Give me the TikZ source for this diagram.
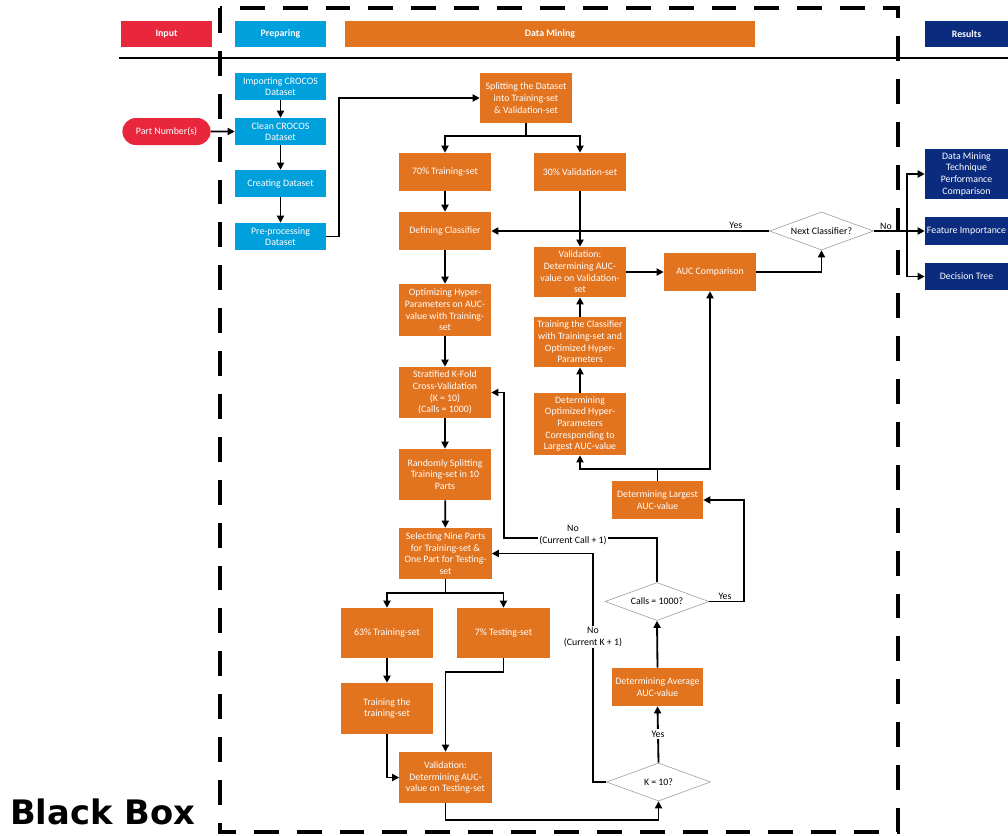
\documentclass[tikz,border=0pt]{standalone}
\usepackage{fontspec}
\setmainfont{Carlito}
\newfontfamily\bbfont{DejaVu Sans}
\usetikzlibrary{arrows.meta, positioning, shapes.geometric, shapes.misc}
\definecolor{inRed}{HTML}{E8263C}
\definecolor{prepBlue}{HTML}{00A0DC}
\definecolor{mineOrange}{HTML}{E2731F}
\definecolor{resNavy}{HTML}{0A2B7E}
\definecolor{diaGray}{HTML}{9A9A9A}
\tikzset{
  arrowK/.style={-{Triangle[length=5pt, width=5pt]}, black, line width=1.3pt},
  boxBase/.style={rectangle, align=center, text=white, inner sep=1pt,
                  font=\fontsize{7}{8.3}\selectfont, minimum width=2.3cm},
  boxBlue/.style={boxBase, fill=prepBlue, minimum width=2.275cm, minimum height=0.675cm},
  boxOrange/.style={boxBase, fill=mineOrange},
  boxNavy/.style={boxBase, fill=resNavy, minimum width=2.075cm},
  boxPill/.style={boxBase, fill=inRed, rounded rectangle, minimum width=2.275cm,
                  minimum height=0.675cm},
  headBox/.style={rectangle, text=white, minimum height=0.65cm,
                  font=\bfseries\fontsize{7}{8}\selectfont},
  decide/.style={diamond, aspect=2.75, draw=diaGray, fill=white, thin, inner sep=0pt,
                 font=\fontsize{7}{8.3}\selectfont, minimum width=2.6cm, minimum height=0.95cm},
  tagText/.style={font=\fontsize{7}{8.3}\selectfont, align=center, inner sep=1pt},
}
\begin{document}
\begin{tikzpicture}[x=0.025cm, y=-0.025cm]
  \useasboundingbox (0,0) rectangle (1008,836);
  % black box frame and header rule
  \draw[line width=3.5pt, dash pattern=on 17.7pt off 12.8pt] (220,8) rectangle (898,832);
  \draw[line width=2pt] (119,58) -- (1008,58);
  \node[anchor=base west, inner sep=0pt, font=\bbfont\bfseries\fontsize{24}{28}\selectfont]
    (bbox) at (10,824) {Black Box};

  % headers
  \node[headBox, fill=inRed, minimum width=2.275cm]     (hIn)   at (166.5,34) {Input};
  \node[headBox, fill=prepBlue, minimum width=2.275cm]  (hPrep) at (280.5,34) {Preparing};
  \node[headBox, fill=mineOrange, minimum width=10.25cm] (hMine) at (550,34) {Data Mining};
  \node[headBox, fill=resNavy, minimum width=2.075cm]   (hRes)  at (966.5,34) {Results};

  % input and preparing
  \node[boxPill] (partNo) at (166.5,131.5) {Part Number(s)};
  \node[boxBlue] (imp)    at (280.5,86.5)  {Importing CROCOS\\Dataset};
  \node[boxBlue] (clean)  at (280.5,131.5) {Clean CROCOS\\Dataset};
  \node[boxBlue] (create) at (280.5,183.5) {Creating Dataset};
  \node[boxBlue] (prep)   at (280.5,236.5) {Pre-processing\\Dataset};

  % data mining, left column
  \node[boxOrange, minimum height=1.25cm] (split)   at (526,98)   {Splitting the Dataset\\into Training-set\\\& Validation-set};
  \node[boxOrange, minimum height=0.95cm] (train70) at (445,172)  {70\% Training-set};
  \node[boxOrange, minimum height=0.95cm] (valid30) at (580,172)  {30\% Validation-set};
  \node[boxOrange, minimum height=0.95cm] (defCls)  at (445,231)  {Defining Classifier};
  \node[boxOrange, minimum height=1.3cm]  (optHP)   at (445,310)  {Optimizing Hyper-\\Parameters on AUC-\\value with Training-\\set};
  \node[boxOrange, minimum height=1.275cm] (strat)  at (445,392.5) {Stratified K-Fold\\Cross-Validation\\(K = 10)\\(Calls = 1000)};
  \node[boxOrange, minimum height=1.275cm] (randSplit) at (445,474.5) {Randomly Splitting\\Training-set in 10\\Parts};
  \node[boxOrange, minimum height=1.275cm] (select) at (445.5,553.5) {Selecting Nine Parts\\for Training-set \&\\One Part for Testing-\\set};
  \node[boxOrange, minimum height=1.25cm] (train63) at (387,633)  {63\% Training-set};
  \node[boxOrange, minimum height=1.25cm] (test7)   at (503.5,633) {7\% Testing-set};
  \node[boxOrange, minimum height=1.275cm] (trainTS) at (387,708.5) {Training the\\training-set};
  \node[boxOrange, minimum height=1.275cm] (validTS) at (445.5,777.5) {Validation:\\Determining AUC-\\value on Testing-set};

  % data mining, right column
  \node[boxOrange, minimum height=1.25cm] (validVS)  at (580,272) {Validation:\\Determining AUC-\\value on Validation-\\set};
  \node[boxOrange, minimum height=0.95cm] (aucCmp)   at (710,272) {AUC Comparison};
  \node[boxOrange, minimum height=1.25cm] (trainCls) at (580,342) {Training the Classifier\\with Training-set and\\Optimized Hyper-\\Parameters};
  \node[boxOrange, minimum height=1.55cm] (optDet)   at (580,424) {Determining\\Optimized Hyper-\\Parameters\\Corresponding to\\Largest AUC-value};
  \node[boxOrange, minimum height=0.95cm, minimum width=2.275cm] (largest) at (657.5,500) {Determining Largest\\AUC-value};
  \node[boxOrange, minimum height=0.95cm, minimum width=2.275cm] (average) at (657.5,687) {Determining Average\\AUC-value};

  % decisions
  \node[decide] (nextCls) at (821.5,231) {Next Classifier?};
  \node[decide] (calls)   at (657,601.5) {Calls = 1000?};
  \node[decide] (kTen)    at (658.5,782) {K = 10?};

  % results
  \node[boxNavy, minimum height=1.25cm] (dmTech)  at (966.5,174)   {Data Mining\\Technique\\Performance\\Comparison};
  \node[boxNavy, minimum height=0.7cm]  (featImp) at (966.5,231)   {Feature Importance};
  \node[boxNavy, minimum height=0.675cm] (decTree) at (966.5,276.5) {Decision Tree};

  % preparing flow
  \draw[arrowK] (imp) -- (clean);
  \draw[arrowK] (clean) -- (create);
  \draw[arrowK] (create) -- (prep);
  \draw[arrowK] (partNo) -- (clean);
  \draw[arrowK] (prep.east) -- ++(13,0) |- (split.west);

  % split and classifier
  \draw[arrowK] (split.south) -- ++(0,13) -| (train70.north);
  \draw[arrowK] (split.south) -- ++(0,13) -| (valid30.north);
  \draw[arrowK] (train70) -- (defCls);
  \draw[arrowK] (valid30) -- (validVS);
  \draw[arrowK] (nextCls.west) -- node[tagText, above, pos=0.12] {Yes} (defCls.east);
  \coordinate (noFork) at (907,231);
  \draw[black, line width=1.3pt] (nextCls.east) -- (noFork);
  \node[tagText, above] (noTag) at (886,231) {No};
  \draw[arrowK] (noFork) |- (dmTech.west);
  \draw[arrowK] (noFork) -- (featImp.west);
  \draw[arrowK] (noFork) |- (decTree.west);
  \draw[arrowK] (defCls) -- (optHP);
  \draw[arrowK] (optHP) -- (strat);
  \draw[arrowK] (strat) -- (randSplit);
  \draw[arrowK] (randSplit) -- (select);
  \draw[arrowK] (validVS) -- (aucCmp);
  \draw[arrowK] (aucCmp.east) -| (nextCls.south);
  \draw[arrowK] (trainCls) -- (validVS);
  \draw[arrowK] (optDet) -- (trainCls);
  \draw[arrowK] (largest.north) -- ++(0,-12) -| (optDet.south);
  \draw[arrowK] (largest.north) -- ++(0,-12) -| (aucCmp.south);

  % cross-validation loops
  \draw[arrowK] (calls.east) -- node[tagText, above, pos=0.45] {Yes} ++(35,0) |- (largest.east);
  \coordinate (callLoop) at (504,538);
  \draw[arrowK] (calls.north) |- (callLoop) |- (strat.east);
  \node[tagText, fill=white] (callTag) at (573,535) {No\\(Current Call + 1)};
  \coordinate (kLoop) at (593,553.5);
  \draw[arrowK] (kTen.west) -| (kLoop) -- (select.east);
  \node[tagText, fill=white] (kTag) at (593,637) {No\\(Current K + 1)};
  \draw[arrowK] (kTen.north) -- (average.south);
  \node[tagText, fill=white] (kYes) at (658,734) {Yes};
  \draw[arrowK] (average.north) -- (calls.south);

  % k-fold split
  \draw[arrowK] (select.south) -- ++(0,14) -| (train63.north);
  \draw[arrowK] (select.south) -- ++(0,14) -| (test7.north);
  \draw[arrowK] (train63) -- (trainTS);
  \draw[arrowK] (trainTS.south) |- (validTS.west);
  \draw[arrowK] (test7.south) -- ++(0,14) -| (validTS.north);
  \draw[arrowK] (validTS.south) -- ++(0,17) -| (kTen.south);
\end{tikzpicture}
\end{document}
